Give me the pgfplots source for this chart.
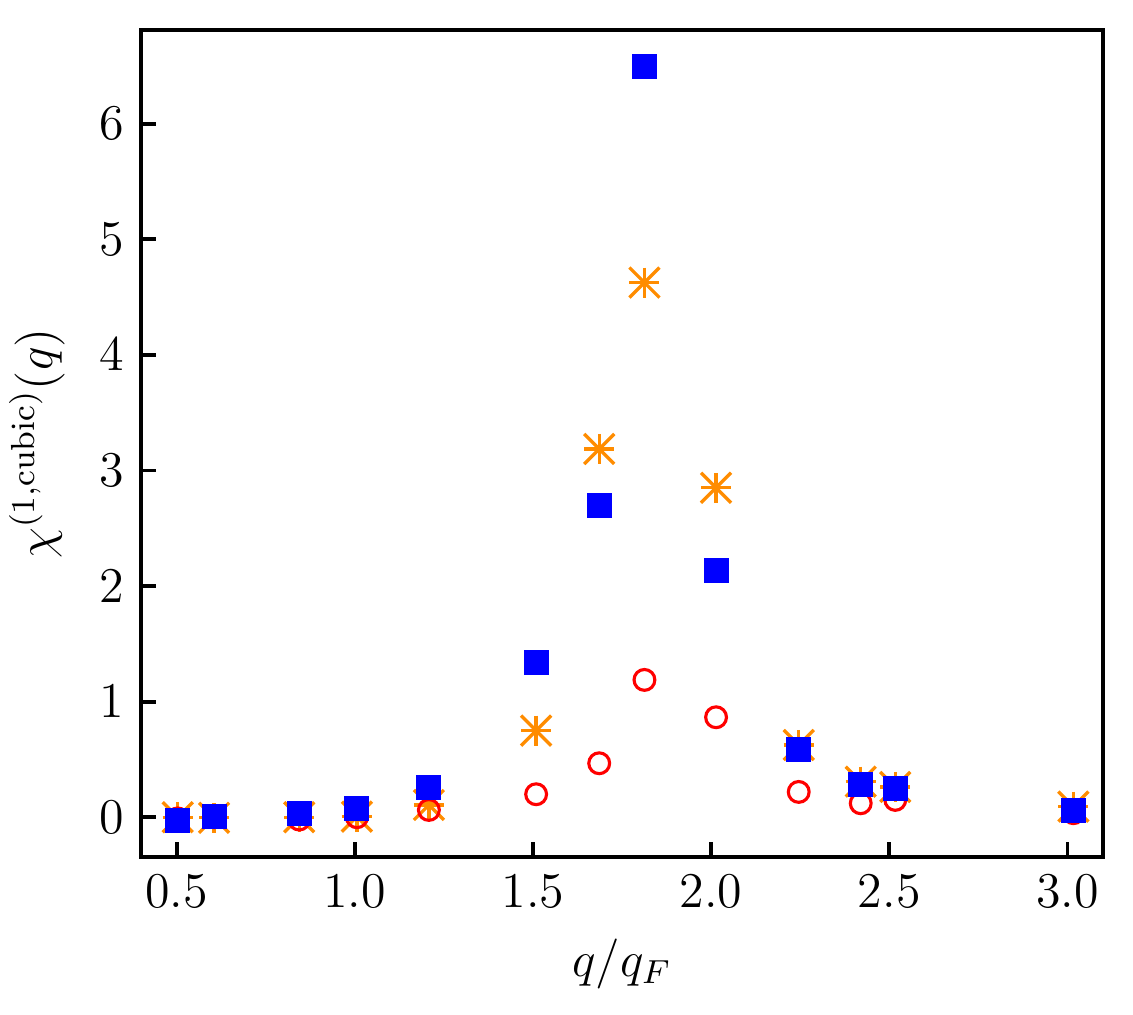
\documentclass[border=0pt]{standalone}
\usepackage{pgfplots}
\pgfplotsset{compat=1.18}
\definecolor{myblue}{RGB}{0,0,255}
\definecolor{myred}{RGB}{255,0,0}
\definecolor{myorange}{RGB}{255,140,0}
\pgfplotstableread{
x      blue    orange  red
0.503  -0.030   0.000  -0.010
0.605   0.005  -0.005   0.000
0.844   0.030   0.000  -0.020
1.006   0.078   0.005   0.000
1.208   0.256   0.106   0.063
1.509   1.337   0.749   0.199
1.686   2.700   3.186   0.467
1.813   6.493   4.625   1.188
2.014   2.133   2.850   0.865
2.246   0.582   0.625   0.219
2.420   0.279   0.308   0.121
2.517   0.245   0.262   0.150
3.017   0.057   0.092   0.035
}\datatable
\begin{document}
\fontsize{12}{14}\selectfont
\begin{tikzpicture}
\useasboundingbox (-33.84pt,-37.68pt) rectangle (238.08pt,205.68pt);
\begin{axis}[
  at={(0,0)}, anchor=south west,
  scale only axis,
  width=230.88pt, height=198.48pt,
  xmin=0.4, xmax=3.1,
  ymin=-0.344, ymax=6.81,
  xtick={0.5,1.0,1.5,2.0,2.5,3.0},
  xticklabels={0.5,1.0,1.5,2.0,2.5,3.0},
  ytick={0,1,2,3,4,5,6},
  tick align=inside,
  xtick pos=bottom, ytick pos=left,
  major tick length=3.5pt,
  minor tick num=0,
  axis line style={line width=0.9pt},
  every tick/.style={line width=0.9pt, black},
  tick label style={font=\fontsize{12}{14}\selectfont},
  label style={font=\fontsize{12}{14}\selectfont},
  xlabel={$q/q_F$},
  ylabel={$\chi^{(1,\mathrm{cubic})}(q)$},
  xlabel style={yshift=1pt},
  ylabel style={yshift=0pt},
  clip=false,
]
\addplot[only marks, mark=x, mark size=5.1pt, color=myorange, mark options={line width=0.8pt}] table[x=x,y=orange]{\datatable};
\addplot[only marks, mark=+, mark size=3.6pt, color=myorange, mark options={line width=0.8pt}] table[x=x,y=orange]{\datatable};
\addplot[only marks, mark=o, mark size=2.5pt, color=myred, mark options={line width=0.75pt, fill=none}] table[x=x,y=red]{\datatable};
\addplot[only marks, mark=square*, mark size=2.88pt, color=myblue, mark options={line width=0pt, fill=myblue}] table[x=x,y=blue]{\datatable};
\end{axis}
\end{tikzpicture}
\end{document}
